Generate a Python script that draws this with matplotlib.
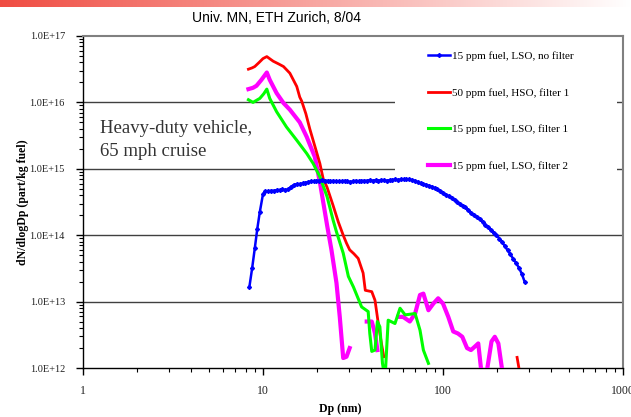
import numpy as np
import matplotlib
matplotlib.use('Agg')
import matplotlib.pyplot as plt
from matplotlib.patches import Rectangle
from matplotlib.ticker import LogLocator, NullFormatter, FixedLocator

# --- data (log10 of dN/dlogDp) ---
dp_blue = [8.4, 8.7, 9.0, 9.3, 9.6, 10.0, 10.3, 10.7, 11.1, 11.5, 11.9, 12.4, 12.8,
           13.3, 13.8, 14.3, 14.9, 15.4, 16.0, 16.6, 17.2, 17.8, 18.4, 19.1, 19.8,
           20.5, 21.3, 22.1, 22.9, 23.7, 24.6, 25.5, 26.4, 27.4, 28.4, 29.4, 30.5,
           31.6, 32.8, 34.0, 35.2, 36.5, 37.9, 39.2, 40.7, 42.2, 43.7, 45.3, 47.0,
           48.7, 50.5, 52.3, 54.2, 56.2, 58.3, 60.4, 62.6, 64.9, 67.3, 69.8, 72.3,
           75.0, 77.7, 80.6, 83.5, 86.6, 89.8, 93.1, 96.5, 100, 104, 108, 112, 116,
           120, 124, 129, 133, 138, 143, 149, 154, 160, 166, 172, 178, 185, 191, 198,
           206, 213, 221, 229, 237, 246, 255, 264, 274, 284]
lg_blue = [13.22, 13.5, 13.80, 14.1, 14.35, 14.62, 14.66, 14.66, 14.67, 14.67, 14.68,
           14.68, 14.69, 14.68, 14.69, 14.73, 14.76, 14.77, 14.77, 14.78, 14.79, 14.80,
           14.81, 14.81, 14.82, 14.82, 14.83, 14.82, 14.82, 14.81, 14.82, 14.81, 14.81,
           14.81, 14.82, 14.81, 14.80, 14.81, 14.82, 14.81, 14.82, 14.82, 14.82, 14.83,
           14.82, 14.83, 14.82, 14.83, 14.83, 14.82, 14.83, 14.83, 14.84, 14.83, 14.84,
           14.84, 14.84, 14.84, 14.83, 14.82, 14.80, 14.78, 14.77, 14.76, 14.745, 14.73,
           14.71, 14.69, 14.67, 14.64, 14.61, 14.585, 14.56, 14.53, 14.50, 14.47, 14.44,
           14.42, 14.38, 14.34, 14.30, 14.27, 14.24, 14.20, 14.16, 14.12, 14.08, 14.04,
           14.00, 13.95, 13.90, 13.83, 13.77, 13.71, 13.64, 13.58, 13.51, 13.42, 13.30]

dp_red = [8.3, 8.7, 9.0, 9.5, 10.0, 10.5, 11.0, 11.4, 12.2, 13.0, 14.1, 15.4, 16.0,
          16.4, 17.3, 18.2, 19.9, 20.7, 21.6, 22.7, 24.5, 26.2, 27.9, 29.1, 30.3,
          32.0, 33.8, 36.0, 37.0, 40.2, 41.9, 43.7, 45.5, 46.9, np.nan, 258, 266]
lg_red = [16.50, 16.52, 16.54, 16.60, 16.66, 16.69, 16.65, 16.62, 16.58, 16.54, 16.44,
          16.24, 16.08, 16.02, 15.83, 15.60, 15.24, 15.08, 14.85, 14.72, 14.45, 14.20,
          14.00, 13.88, 13.78, 13.72, 13.65, 13.43, 13.17, 13.15, 13.02, 12.67, 12.37,
          12.17, np.nan, 12.16, 11.95]

dp_green = [8.3, 8.8, 9.6, 10.1, 10.5, 10.9, 11.9, 13.5, 15.4, 17.5, 19.0, 20.7, 22.7,
            24.5, 25.6, 27.9, 29.8, 31.8, 35.3, 38.4, 39.2, 40.2, 41.9, 43.2, 44.6,
            46.1, 46.9, 48.0, 49.6, 54.1, 57.7, 61.6, 70.0, 74.5, 77.8, 83.0]
lg_green = [16.04, 16.00, 16.06, 16.13, 16.20, 16.06, 15.86, 15.63, 15.43, 15.23, 15.08,
            14.88, 14.58, 14.23, 14.05, 13.73, 13.38, 13.22, 12.92, 12.85, 12.52, 12.25,
            12.27, 12.70, 12.62, 12.07, 11.95, 12.00, 12.72, 12.67, 12.90, 12.80, 12.82,
            12.57, 12.27, 12.07]

dp_mag = [8.3, 8.8, 9.2, 9.8, 10.5, 10.9, 11.9, 13.0, 14.1, 16.0, 17.5, 19.4, 20.7,
          22.7, 24.0, 25.6, 26.7, 27.9, 29.1, 30.3, np.nan, 37.7, 40.2, 41.9, 43.2,
          np.nan, 56.4, 60.0, 65.4, 70.0, 74.5, 77.8, 83.0, 88.4, 94.0, 100, 107, 114,
          121, 128, 136, 143, 150, 157, 164, 174, 186, 194, 203, 215]
lg_mag = [16.20, 16.22, 16.25, 16.34, 16.45, 16.34, 16.14, 15.99, 15.89, 15.70, 15.48,
          15.18, 14.80, 14.15, 13.78, 13.28, 12.77, 12.15, 12.17, 12.30, np.nan, 12.70,
          12.70, 12.52, 12.27, np.nan, 12.77, 12.77, 12.70, 12.82, 13.10, 13.12, 12.87,
          12.97, 13.05, 12.97, 12.77, 12.55, 12.52, 12.47, 12.30, 12.27, 12.32, 12.37,
          11.9, 11.9, 12.40, 12.47, 12.37, 11.9]

labels = ['15 ppm fuel, LSO, no filter', '50 ppm fuel, HSO, filter 1',
          '15 ppm fuel, LSO, filter 1', '15 ppm fuel, LSO, filter 2']
ytick_vals = [1e12, 1e13, 1e14, 1e15, 1e16, 1e17]
ytick_labels = ['1.0E+12', '1.0E+13', '1.0E+14', '1.0E+15', '1.0E+16', '1.0E+17']
xtick_vals = [1, 10, 100, 1000]
xtick_labels = ['1', '10', '100', '1000']

serif = 'Liberation Serif'

fig = plt.figure(figsize=(6.31, 4.17), dpi=100)

# red gradient strip across the top (slide header)
bar = fig.add_axes([0, 1 - 7/417, 1, 7/417])
grad = np.linspace(0, 1, 256)
c0 = np.array([0.94, 0.30, 0.26])
img = c0[None, :] * (1 - grad[:, None]) + grad[:, None]
bar.imshow(img[None, :, :], aspect='auto', extent=[0, 1, 0, 1])
bar.axis('off')

ax = fig.add_axes([83/631, 49/417, 540/631, 332/417])
ax.set_xscale('log')
ax.set_yscale('log')
ax.set_xlim(1, 1000)
ax.set_ylim(1e12, 1e17)

for v in ytick_vals[1:-1]:
    ax.axhline(v, color='#404040', lw=1.0, zorder=1)

# white area behind the legend hides the grid lines
ax.add_patch(Rectangle((0.578, 0.57), 0.411, 0.43, transform=ax.transAxes,
                       facecolor='white', edgecolor='none', zorder=2))

ax.plot(dp_blue, 10**np.array(lg_blue), color='#0000ff', lw=1.8, marker='D',
        ms=2.0, zorder=5, label=labels[0])
ax.plot(dp_red, 10**np.array(lg_red), color='#ff0000', lw=2.0, zorder=4, label=labels[1])
ax.plot(dp_green, 10**np.array(lg_green), color='#00ff00', lw=2.2, zorder=4, label=labels[2])
ax.plot(dp_mag, 10**np.array(lg_mag), color='#ff00ff', lw=3.0, zorder=3, label=labels[3])

ax.yaxis.set_major_locator(FixedLocator(ytick_vals))
ax.set_yticklabels(ytick_labels, family=serif, fontsize=7.5, color='#222222')
ax.yaxis.set_minor_locator(LogLocator(base=10, subs=np.arange(2, 10)))
ax.yaxis.set_minor_formatter(NullFormatter())
ax.xaxis.set_major_locator(FixedLocator(xtick_vals))
ax.set_xticklabels(xtick_labels, family=serif, fontsize=8.5, color='#222222')
ax.xaxis.set_minor_locator(LogLocator(base=10, subs=np.arange(2, 10)))
ax.xaxis.set_minor_formatter(NullFormatter())
ax.tick_params(which='major', direction='out', length=5, width=1)
ax.tick_params(which='minor', direction='out', length=3, width=0.8)
ax.tick_params(axis='y', which='major', pad=8)
ax.tick_params(axis='x', which='major', pad=7)

for s in ['top', 'right']:
    ax.spines[s].set_color('#808080')
    ax.spines[s].set_linewidth(1.5)
for s in ['left', 'bottom']:
    ax.spines[s].set_color('black')
    ax.spines[s].set_linewidth(1.0)

ax.set_xlabel('Dp (nm)', family=serif, fontweight='bold', fontsize=8.5)
ax.xaxis.set_label_coords(0.476, -0.105)
ax.set_ylabel('dN/dlogDp (part/kg fuel)', family=serif, fontweight='bold', fontsize=8.5)
ax.yaxis.set_label_coords(-0.1, 0.5)

ax.text(0.031, (368 - 133) / 332, 'Heavy-duty vehicle,', transform=ax.transAxes,
        family=serif, fontsize=13.5, color='#333333', va='baseline', ha='left')
ax.text(0.031, (368 - 156) / 332, '65 mph cruise', transform=ax.transAxes,
        family=serif, fontsize=13.5, color='#333333', va='baseline', ha='left')

leg = ax.legend(loc='upper left', bbox_to_anchor=(0.63, 0.967), frameon=False,
                prop={'family': serif, 'size': 8}, handlelength=2.0,
                handletextpad=0.15, labelspacing=2.4, borderaxespad=0)

fig.text(277/631, 1 - 18/417, 'Univ. MN, ETH Zurich, 8/04', ha='center', va='center',
         family='Liberation Sans', fontsize=10)

fig.savefig('out.png', dpi=100)
